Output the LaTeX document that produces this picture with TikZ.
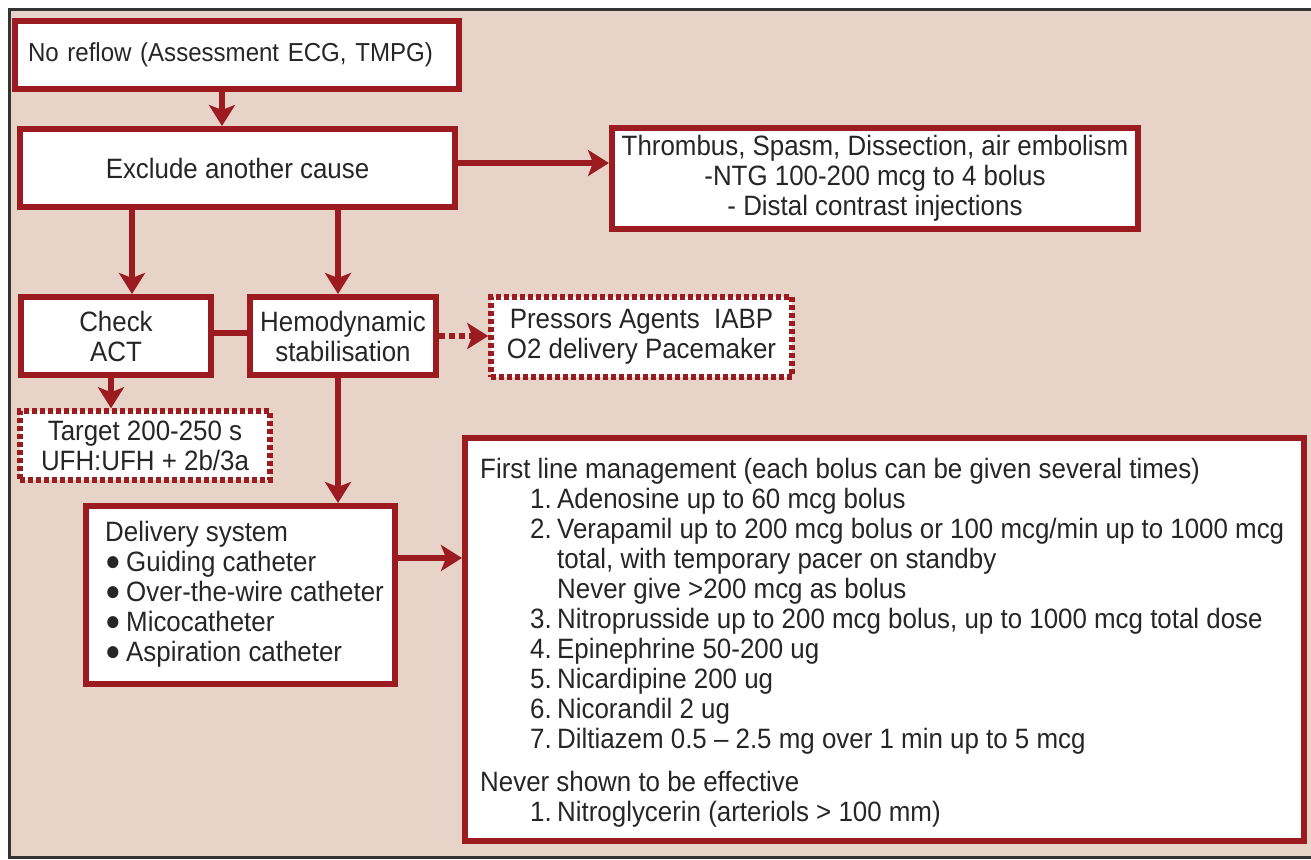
\documentclass[tikz,border=0pt]{standalone}
\usepackage{fontspec}
\setmainfont{Liberation Sans}[FakeStretch=0.925]
\usetikzlibrary{arrows.meta}
\definecolor{bgc}{HTML}{E8D3C8}
\definecolor{dred}{HTML}{9B1B20}
\definecolor{frm}{HTML}{333333}
\definecolor{txtc}{HTML}{262626}
\newcommand{\flitem}[2]{\hspace*{50pt}\makebox[27pt][l]{#1}#2}
\newcommand{\flcont}[1]{\hspace*{77pt}#1}
\newcommand{\bigbul}{\makebox[21pt][l]{\raisebox{1pt}{\fontsize{28}{30}\selectfont ●}}}
\begin{document}
\begin{tikzpicture}[x=1pt,y=-1pt,
  every node/.style={text=txtc, font=\fontsize{28}{30}\selectfont, inner sep=0pt},
  box/.style={draw=dred, line width=6pt, fill=white},
  dotbox/.style={draw=dred, line width=5.5pt, dash pattern=on 5pt off 3pt, fill=white},
  conn/.style={draw=dred, line width=6pt},
  arr/.style={conn, -{Stealth[length=21pt,width=26pt,inset=5pt]}},
  darr/.style={arr, dash pattern=on 6pt off 4pt}]
\useasboundingbox (0,0) rectangle (1311,859);
\fill[white] (0,0) rectangle (1311,859);
\fill[bgc] (10,10) rectangle (1311,857);
\draw[frm, line width=3pt] (1311,9.5) -- (9.5,9.5) -- (9.5,857.5) -- (1311,857.5);

\node[box, minimum width=444pt, minimum height=68pt, text width=418pt, align=left, font=\fontsize{26}{30}\selectfont] (reflow) at (237,55) {No reflow (Assessment ECG, TMPG)};
\node[box, minimum width=435pt, minimum height=78pt] (exclude) at (237.5,168) {Exclude another cause};
\node[box, minimum width=526pt, minimum height=101pt, align=center] (thromb) at (875,178.5) {Thrombus, Spasm, Dissection, air embolism\\-NTG 100-200 mcg to 4 bolus\\- Distal contrast injections};
\node[box, minimum width=190pt, minimum height=78pt, align=center] (check) at (116,336) {Check\\ACT};
\node[box, minimum width=186pt, minimum height=78pt, align=center] (hemo) at (343,336) {Hemodynamic\\stabilisation};
\node[dotbox, minimum width=301pt, minimum height=80pt, align=center] (press) at (641.5,337) {Pressors Agents\ \ IABP\\O2 delivery Pacemaker};
\node[dotbox, minimum width=250pt, minimum height=69pt, align=center] (target) at (145,445.5) {Target 200-250 s\\UFH:UFH + 2b/3a};
\node[box, minimum width=309pt, minimum height=178pt] (deliv) at (240.5,595) {};
\node[anchor=north west, align=left] (delivtext) at (105,521) {Delivery system\\\bigbul Guiding catheter\\\bigbul Over-the-wire catheter\\\bigbul Micocatheter\\\bigbul Aspiration catheter};
\node[box, minimum width=839pt, minimum height=403pt] (first) at (884.5,639.5) {};
\node[anchor=north west, align=left] (firsttext) at (480,458) {First line management (each bolus can be given several times)\\
\flitem{1.}{Adenosine up to 60 mcg bolus}\\
\flitem{2.}{Verapamil up to 200 mcg bolus or 100 mcg/min up to 1000 mcg}\\
\flcont{total, with temporary pacer on standby}\\
\flcont{Never give >200 mcg as bolus}\\
\flitem{3.}{Nitroprusside up to 200 mcg bolus, up to 1000 mcg total dose}\\
\flitem{4.}{Epinephrine 50-200 ug}\\
\flitem{5.}{Nicardipine 200 ug}\\
\flitem{6.}{Nicorandil 2 ug}\\
\flitem{7.}{Diltiazem 0.5 -- 2.5 mg over 1 min up to 5 mcg}\\[13pt]
Never shown to be effective\\
\flitem{1.}{Nitroglycerin (arteriols > 100 mm)}};

\draw[arr] ([xshift=-15pt]reflow.south) -- ([xshift=-15pt]reflow.south |- exclude.north);
\draw[arr] ([yshift=5pt]exclude.east) -- ([yshift=5pt]exclude.east -| thromb.west);
\draw[arr] ([xshift=16pt]check.north |- exclude.south) -- ([xshift=16pt]check.north);
\draw[arr] ([xshift=-5pt]hemo.north |- exclude.south) -- ([xshift=-5pt]hemo.north);
\draw[conn] ([yshift=3pt]check.east) -- ([yshift=3pt]hemo.west);
\draw[darr] (hemo.east) -- (hemo.east -| press.west);
\draw[arr] ([xshift=-5pt]check.south) -- ([xshift=-5pt]check.south |- target.north);
\draw[arr] ([xshift=-5pt]hemo.south) -- ([xshift=-5pt]hemo.south |- deliv.north);
\draw[arr] ([yshift=37pt]deliv.east) -- ([yshift=37pt]deliv.east -| first.west);
\end{tikzpicture}
\end{document}
